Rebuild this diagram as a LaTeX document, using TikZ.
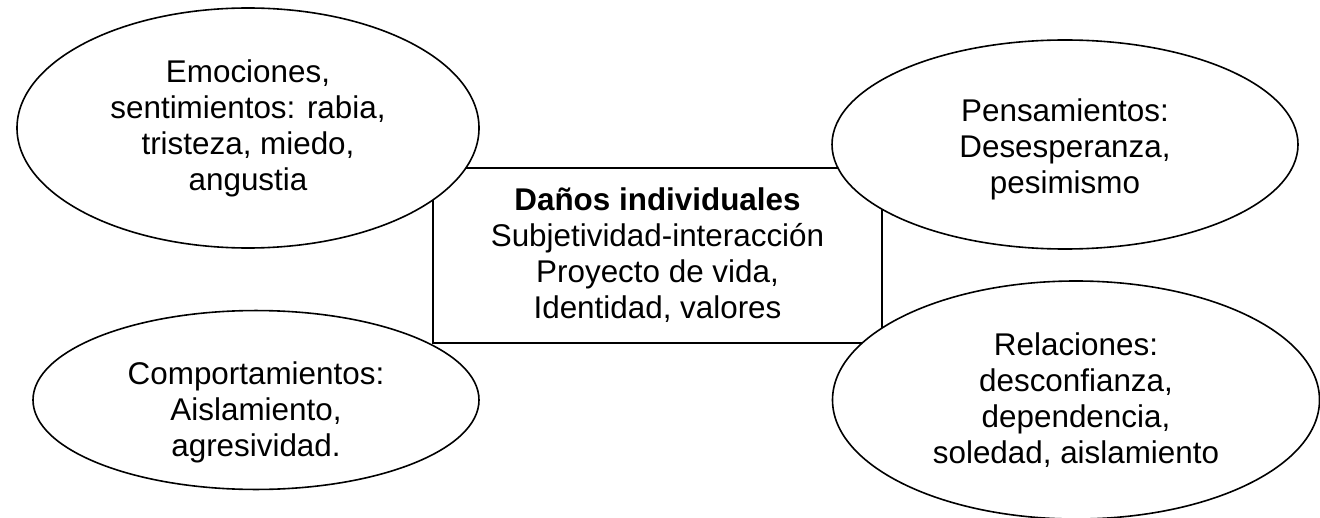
\documentclass[tikz,border=0pt]{standalone}
\usepackage{fontspec}
\setmainfont{Liberation Sans}
\usetikzlibrary{shapes.geometric}

\begin{document}
\begin{tikzpicture}
[x=0.5pt,y=-0.5pt
,txt/.style={align=center,font=\fontsize{15.7}{18}\selectfont}
,el/.style={ellipse,draw,fill=white,line width=0.8pt,inner sep=0pt,txt}
,box/.style={rectangle,draw,line width=0.8pt,inner sep=0pt,txt}]
\useasboundingbox (0,0) rectangle (1320,518);
\node[box,minimum width=224.5pt,minimum height=87.5pt] (dan) at (657.5,255.5)
  {\textbf{Daños individuales}\\Subjetividad-interacción\\Proyecto de vida,\\Identidad, valores};
\node[el,minimum width=231pt,minimum height=120pt] (emo) at (248,128)
  {Emociones,\\sentimientos: rabia,\\tristeza, miedo,\\angustia};
\node[el,minimum width=233pt,minimum height=104.5pt] (pen) at (1065,144.5)
  {\rule{0pt}{16pt}Pensamientos:\\Desesperanza,\\pesimismo};
\node[el,minimum width=223pt,minimum height=88pt] (com) at (256,400)
  {\rule{0pt}{24pt}Comportamientos:\\Aislamiento,\\agresividad.};
\node[el,minimum width=243.5pt,minimum height=119pt] (rel) at (1076,400)
  {Relaciones:\\desconfianza,\\dependencia,\\soledad, aislamiento};
\end{tikzpicture}
\end{document}
